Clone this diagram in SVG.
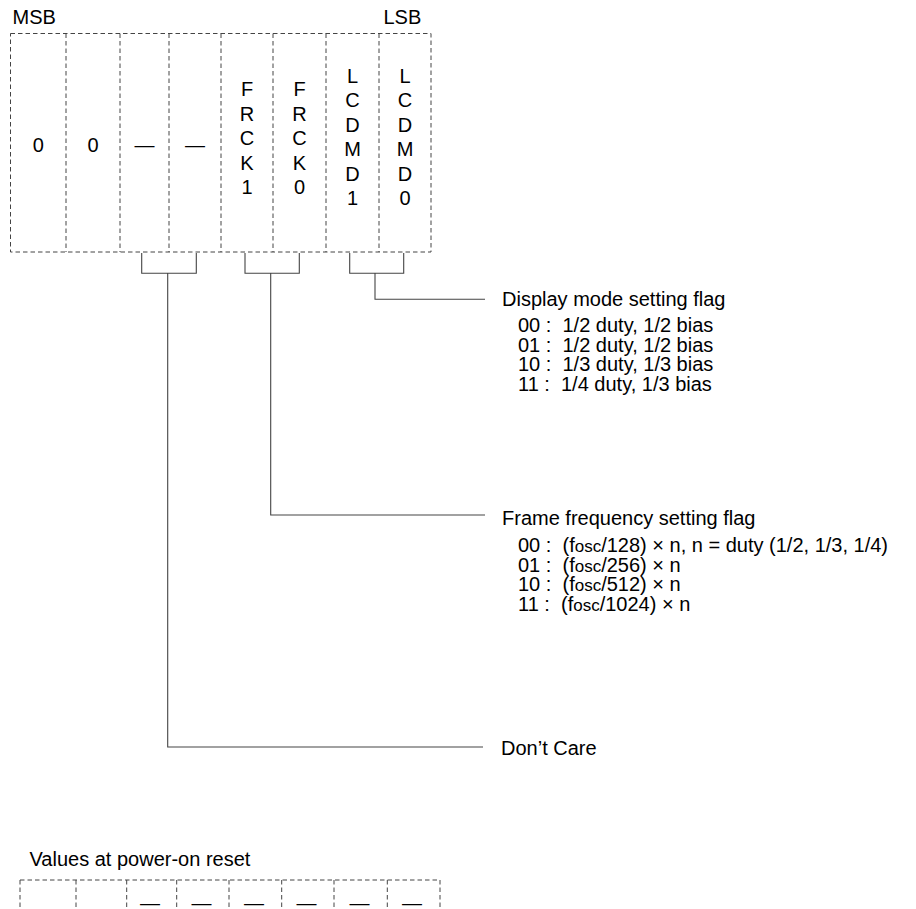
<svg xmlns="http://www.w3.org/2000/svg" width="916" height="909" viewBox="0 0 916 909">
<style>
.t{font-family:"Liberation Sans",Arial,sans-serif;font-size:20px;fill:#000}
.m{text-anchor:middle}
.s{font-size:17px}
.dash{fill:none;stroke:#444;stroke-width:1;stroke-dasharray:4.5 3}
.ln{fill:none;stroke:#444;stroke-width:1.1}
</style>
<rect width="916" height="909" fill="#fff"/>
<g id="register">
<text class="t" x="12.5" y="24">MSB</text>
<text class="t" x="383.5" y="24">LSB</text>
<rect class="dash" x="10.5" y="33.5" width="420.5" height="218.5"/>
<path class="dash" d="M66 33.5V252M120 33.5V252M169 33.5V252M221 33.5V252M273 33.5V252M326 33.5V252M379 33.5V252"/>
<g id="bit7"><text class="t m" x="38.3" y="152">0</text></g>
<g id="bit6"><text class="t m" x="93" y="152">0</text></g>
<g id="bit5"><text class="t m" x="144.5" y="152">—</text></g>
<g id="bit4"><text class="t m" x="195" y="152">—</text></g>
<g id="bit3"><text class="t m" x="247" y="96">F</text><text class="t m" x="247" y="120.5">R</text><text class="t m" x="247" y="145">C</text><text class="t m" x="247" y="169.5">K</text><text class="t m" x="247" y="194">1</text></g>
<g id="bit2"><text class="t m" x="299.5" y="96">F</text><text class="t m" x="299.5" y="120.5">R</text><text class="t m" x="299.5" y="145">C</text><text class="t m" x="299.5" y="169.5">K</text><text class="t m" x="299.5" y="194">0</text></g>
<g id="bit1"><text class="t m" x="352.5" y="82.5">L</text><text class="t m" x="352.5" y="107">C</text><text class="t m" x="352.5" y="131.5">D</text><text class="t m" x="352.5" y="156">M</text><text class="t m" x="352.5" y="180.5">D</text><text class="t m" x="352.5" y="205">1</text></g>
<g id="bit0"><text class="t m" x="405" y="82.5">L</text><text class="t m" x="405" y="107">C</text><text class="t m" x="405" y="131.5">D</text><text class="t m" x="405" y="156">M</text><text class="t m" x="405" y="180.5">D</text><text class="t m" x="405" y="205">0</text></g>
</g>
<g id="connectors">
<path class="ln" d="M141.7 253V273.3H196.3V253M167.7 273.3V747H483"/>
<path class="ln" d="M245 253V273.3H299.3V253M270.7 273.3V515H485"/>
<path class="ln" d="M349.7 253V273.3H403.7V253M375 273.3V299.3H485"/>
</g>
<g id="display-mode">
<text class="t" x="502" y="306">Display mode setting flag</text>
<text class="t" x="518" y="332" xml:space="preserve">00 :  1/2 duty, 1/2 bias</text>
<text class="t" x="518" y="351.5" xml:space="preserve">01 :  1/2 duty, 1/2 bias</text>
<text class="t" x="518" y="371" xml:space="preserve">10 :  1/3 duty, 1/3 bias</text>
<text class="t" x="518" y="390.5" xml:space="preserve">11 :  1/4 duty, 1/3 bias</text>
</g>
<g id="frame-frequency">
<text class="t" x="502" y="525">Frame frequency setting flag</text>
<text class="t" x="518" y="552" xml:space="preserve">00 :  (f<tspan class="s">osc</tspan>/128) × n, n = duty (1/2, 1/3, 1/4)</text>
<text class="t" x="518" y="571.5" xml:space="preserve">01 :  (f<tspan class="s">osc</tspan>/256) × n</text>
<text class="t" x="518" y="591" xml:space="preserve">10 :  (f<tspan class="s">osc</tspan>/512) × n</text>
<text class="t" x="518" y="610.5" xml:space="preserve">11 :  (f<tspan class="s">osc</tspan>/1024) × n</text>
</g>
<g id="dont-care">
<text class="t" x="501" y="754.5">Don’t Care</text>
</g>
<g id="reset-values">
<text class="t" x="29.5" y="866">Values at power-on reset</text>
<path class="dash" d="M20 880H440M20 880V915M76 880V915M126.7 880V915M176.7 880V915M229 880V915M281.7 880V915M334 880V915M387.3 880V915M440 880V915"/>
<text class="t m" x="150" y="910">—</text>
<text class="t m" x="201.5" y="910">—</text>
<text class="t m" x="254" y="910">—</text>
<text class="t m" x="306.5" y="910">—</text>
<text class="t m" x="359.5" y="910">—</text>
<text class="t m" x="412" y="910">—</text>
</g>
</svg>
